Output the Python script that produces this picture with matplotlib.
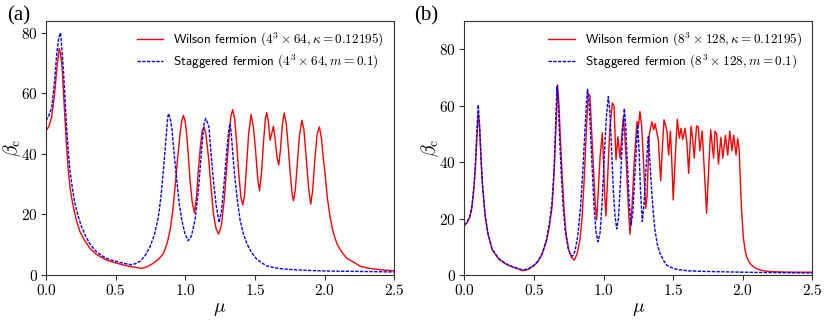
import numpy as np
import matplotlib
matplotlib.use('Agg')
import matplotlib.pyplot as plt

plt.rcParams['mathtext.fontset'] = 'cm'
plt.rcParams['font.family'] = ['DejaVu Sans']

# ---- panel (a): 4^3 x 64 ----
mu_wil_a = [0.00, 0.02, 0.04, 0.06, 0.08, 0.095, 0.105, 0.115, 0.125, 0.137, 0.15, 0.16, 0.175, 0.196,
            0.22, 0.244, 0.28, 0.316, 0.36, 0.40, 0.436, 0.50, 0.556, 0.62, 0.687, 0.73, 0.771, 0.81,
            0.843, 0.87, 0.891, 0.91, 0.927, 0.945, 0.963, 0.975, 0.987, 0.998, 1.01, 1.022, 1.034,
            1.05, 1.066, 1.08, 1.094, 1.11, 1.122, 1.135, 1.148, 1.168, 1.185, 1.202, 1.22, 1.24,
            1.26, 1.28, 1.30, 1.315, 1.328, 1.341, 1.355, 1.37, 1.385, 1.40, 1.413, 1.425, 1.44,
            1.455, 1.473, 1.49, 1.505, 1.52, 1.533, 1.548, 1.562, 1.575, 1.585, 1.597, 1.609, 1.62,
            1.633, 1.645, 1.658, 1.671, 1.683, 1.697, 1.71, 1.725, 1.74, 1.755, 1.768, 1.777, 1.79,
            1.805, 1.82, 1.837, 1.852, 1.868, 1.885, 1.901, 1.915, 1.93, 1.947, 1.963, 1.978, 1.992,
            2.004, 2.02, 2.04, 2.06, 2.088, 2.12, 2.16, 2.2, 2.256, 2.31, 2.37, 2.43, 2.5]
beta_wil_a = [47.5, 49, 52, 59, 69, 74.8, 73, 69, 61, 51, 41, 34.6, 28, 22.5,
              17.8, 14.3, 11.2, 8.8, 6.9, 5.8, 4.9, 4.0, 3.3, 2.7, 2.2, 2.8, 3.9, 5.3,
              7.1, 10.5, 14.8, 21, 29.1, 38.5, 46.7, 51, 52.7, 51, 46.7, 39.5, 31.3,
              24, 20.5, 25.5, 34.6, 43, 47.5, 48.9, 46.5, 38.3, 29, 20.3, 15.5, 13.5,
              16.5, 25, 37, 46, 52.5, 54.6, 51.5, 43, 33, 25.5, 23.1, 26, 36,
              46.5, 53, 48.5, 41, 32, 27.8, 34, 44, 51.5, 53.6, 50.5, 44.5, 46.5,
              49.1, 45, 39, 36.3, 41, 49.5, 53.5, 50, 42, 33, 26.5, 24.5, 28,
              37, 46, 51.1, 48, 39, 29, 23.4, 28, 38, 46.5, 48.9, 45, 38,
              33.5, 25.5, 19.2, 14.5, 10.4, 7.8, 5.5, 4.5, 2.9, 2.3, 1.9, 1.6, 1.4]

mu_stag_a = [0.00, 0.02, 0.041, 0.06, 0.077, 0.092, 0.105, 0.115, 0.125, 0.137, 0.148, 0.16, 0.172,
             0.19, 0.208, 0.23, 0.256, 0.285, 0.316, 0.36, 0.40, 0.436, 0.48, 0.53, 0.575, 0.615,
             0.645, 0.675, 0.71, 0.747, 0.78, 0.807, 0.826, 0.843, 0.86, 0.872, 0.879, 0.89, 0.903,
             0.92, 0.939, 0.957, 0.975, 0.998, 1.022, 1.045, 1.07, 1.09, 1.106, 1.122, 1.135, 1.147,
             1.158, 1.17, 1.185, 1.202, 1.222, 1.243, 1.26, 1.28, 1.30, 1.314, 1.322, 1.33, 1.343,
             1.358, 1.376, 1.394, 1.418, 1.442, 1.475, 1.514, 1.55, 1.585, 1.64, 1.705, 1.8, 1.945,
             2.1, 2.3, 2.5]
beta_stag_a = [51, 52.5, 55.2, 63, 73, 78.5, 79.9, 74, 67.6, 58, 48.9, 41, 34.6,
               28.5, 23.6, 19.5, 15.9, 12.8, 10.2, 7.8, 6.4, 5.5, 4.8, 4.2, 3.7, 3.4,
               3.8, 4.5, 6.3, 9.3, 13.5, 19.2, 26, 34.6, 44, 51, 53.3, 52, 48.9,
               40, 31.3, 23.5, 18.2, 13.5, 11.3, 13, 18.2, 26, 34.6, 44, 50, 51.6,
               50.5, 48.9, 40, 31.3, 23, 17.3, 21, 31, 42, 48.5, 50, 47, 39,
               31.3, 24, 18.1, 13.5, 10.4, 7.5, 5.2, 4, 3.0, 2.4, 2.0, 1.7, 1.4,
               1.25, 1.15, 1.0]

# ---- panel (b): 8^3 x 128 ----
mu_wil_b = [0.0, 0.02, 0.04, 0.055, 0.07, 0.08, 0.09, 0.1, 0.11, 0.12, 0.13, 0.15, 0.17, 0.2, 0.25,
            0.3, 0.35, 0.42, 0.46, 0.5, 0.53, 0.56, 0.59, 0.61, 0.63, 0.645, 0.658, 0.67, 0.68,
            0.69, 0.7, 0.715, 0.73, 0.75, 0.77, 0.79, 0.81, 0.83, 0.845, 0.86, 0.875, 0.89, 0.902,
            0.915, 0.93, 0.94, 0.95, 0.96, 0.975, 0.991, 1.0, 1.008, 1.017, 1.03, 1.045, 1.063,
            1.075, 1.089, 1.103, 1.118, 1.132, 1.142, 1.152, 1.165, 1.178, 1.19, 1.205, 1.22, 1.24,
            1.25, 1.261, 1.273, 1.285, 1.302, 1.312, 1.328, 1.347, 1.36, 1.37, 1.393, 1.41, 1.422,
            1.434, 1.445, 1.455, 1.467, 1.48, 1.49, 1.5, 1.515, 1.529, 1.544, 1.556, 1.568, 1.585,
            1.598, 1.611, 1.628, 1.64, 1.651, 1.66, 1.668, 1.68, 1.691, 1.708, 1.722, 1.74, 1.755,
            1.769, 1.79, 1.8, 1.812, 1.825, 1.842, 1.856, 1.875, 1.891, 1.906, 1.922, 1.934, 1.951,
            1.963, 1.974, 1.982, 1.991, 2.003, 2.015, 2.027, 2.05, 2.075, 2.11, 2.146, 2.2, 2.3,
            2.4, 2.5]
beta_wil_b = [17.5, 18.5, 20.5, 24, 31, 38, 48, 57, 52, 41, 32, 20.7, 14.5, 8.9, 5.5,
              3.8, 2.8, 1.5, 2.0, 3.3, 4.8, 7.5, 12, 17, 24, 36, 52, 67.4, 60,
              48, 38, 24, 14.8, 9, 6.2, 5.3, 7.5, 12.4, 20, 33, 50, 64.4, 63.5,
              50, 35, 25, 19.5, 28, 42, 50.4, 40, 28, 20.9, 35, 52, 61,
              59.7, 40.8, 49, 41.3, 50, 56.1, 50, 38, 24, 14.5, 25, 40, 54.4,
              52.5, 57.9, 53, 42, 23.6, 28, 49.6, 54.3, 51.5, 53.6, 47.9, 33.4, 45,
              55, 53, 51, 42.5, 51, 40, 26.6, 42, 55.2, 48.5, 52, 48, 52,
              47, 36, 52.8, 48, 41.4, 48, 52.8, 52.5, 44, 51, 38, 21.9, 38,
              51.5, 41.4, 51, 50, 39.3, 48.8, 41.4, 49.5, 42.5, 51, 44, 49.5, 42.5,
              48.4, 44.3, 33, 23, 13.6, 9, 6.5, 4.2, 2.9, 2.0, 1.5, 1.2, 1.05,
              1.0, 1.0]

mu_stag_b = [0.0, 0.02, 0.04, 0.055, 0.07, 0.08, 0.09, 0.1, 0.11, 0.12, 0.13, 0.15, 0.17, 0.2, 0.25,
             0.3, 0.35, 0.42, 0.46, 0.5, 0.53, 0.56, 0.59, 0.61, 0.63, 0.645, 0.655, 0.665, 0.675,
             0.685, 0.695, 0.71, 0.725, 0.745, 0.762, 0.778, 0.795, 0.815, 0.835, 0.85, 0.865, 0.877,
             0.885, 0.895, 0.905, 0.918, 0.932, 0.945, 0.96, 0.975, 0.99, 1.005, 1.02, 1.034, 1.045,
             1.057, 1.07, 1.082, 1.094, 1.107, 1.12, 1.135, 1.149, 1.16, 1.172, 1.185, 1.197, 1.21,
             1.225, 1.245, 1.255, 1.265, 1.278, 1.29, 1.305, 1.321, 1.332, 1.345, 1.357, 1.369,
             1.385, 1.405, 1.43, 1.453, 1.49, 1.525, 1.6, 1.7, 1.85, 2.0, 2.2, 2.5]
beta_stag_b = [17.7, 18.7, 20.8, 24.5, 32, 40, 51, 60.3, 53, 42, 32.5, 21, 14.8, 9.2, 5.7,
               4.0, 2.9, 1.8, 2.2, 3.5, 5.0, 7.8, 12.5, 18, 26, 38, 52, 66.8, 60,
               48, 37, 24, 15.5, 9.5, 7.2, 6.7, 8.5, 14, 24, 36, 50, 61,
               65.8, 62, 52, 38, 24, 15.5, 11.8, 15, 26, 42, 56, 63.2, 58,
               45, 30, 21, 16.3, 20, 32, 48, 59, 52, 38, 25, 17.7, 22,
               36, 53.2, 44, 30, 18.9, 25, 38, 49, 41, 30.1, 22, 16,
               11, 7.7, 5.2, 3.5, 2.6, 2.0, 1.5, 1.3, 1.15, 1.0, 0.85, 0.7]

xticks = [0.0, 0.5, 1.0, 1.5, 2.0, 2.5]
yticks = [0, 20, 40, 60, 80]

panels = [
    ('(a)', mu_wil_a, beta_wil_a, mu_stag_a, beta_stag_a,
     r'Wilson fermion $(4^3\times 64, \kappa=0.12195)$',
     r'Staggered fermion $(4^3\times 64, m=0.1)$', None),
    ('(b)', mu_wil_b, beta_wil_b, mu_stag_b, beta_stag_b,
     r'Wilson fermion $(8^3\times 128, \kappa=0.12195)$',
     r'Staggered fermion $(8^3\times 128, m=0.1)$', 90),
]

fig = plt.figure(figsize=(8.3, 3.26), dpi=100)
lefts = [0.0554, 0.5594]
tag_x = [0.008, 0.499]
for i, (tag, mw, bw, ms, bs, lw_lab, ls_lab, ytop) in enumerate(panels):
    ax = fig.add_axes([lefts[i], 0.1564, 0.4195, 0.7792])
    ax.plot(mw, bw, color='red', lw=1.0, label=lw_lab)
    ax.plot(ms, bs, color='blue', lw=1.0, ls='--', dashes=(2.4, 1.0), label=ls_lab)
    ax.set_xlim(0, 2.5)
    if ytop is None:
        ax.set_ylim(0, None)
    else:
        ax.set_ylim(0, ytop)
    ax.set_xticks(xticks)
    ax.set_xticklabels([r'$%.1f$' % v for v in xticks], fontsize=11)
    ax.set_yticks(yticks)
    ax.set_yticklabels([r'$%d$' % v for v in yticks], fontsize=11)
    ax.tick_params(length=3.5, pad=2.5, color='#333333')
    ax.set_xlabel(r'$\mu$', fontsize=14)
    ax.set_ylabel(r'$\beta_{\rm c}$', fontsize=14)
    ax.xaxis.set_label_coords(0.5, -0.095)
    ax.yaxis.set_label_coords(-0.098, 0.5)
    ax.yaxis.label.set_va('center')
    for s in ax.spines.values():
        s.set_color('#333333')
    ax.legend(loc='upper right', frameon=False, prop={'family': 'cmss10', 'size': 9.5},
              labelspacing=0.3, borderaxespad=0.35)
    fig.text(tag_x[i], 0.952, tag, fontsize=15, family='Liberation Serif', va='center')

plt.savefig('out.png', dpi=100)
